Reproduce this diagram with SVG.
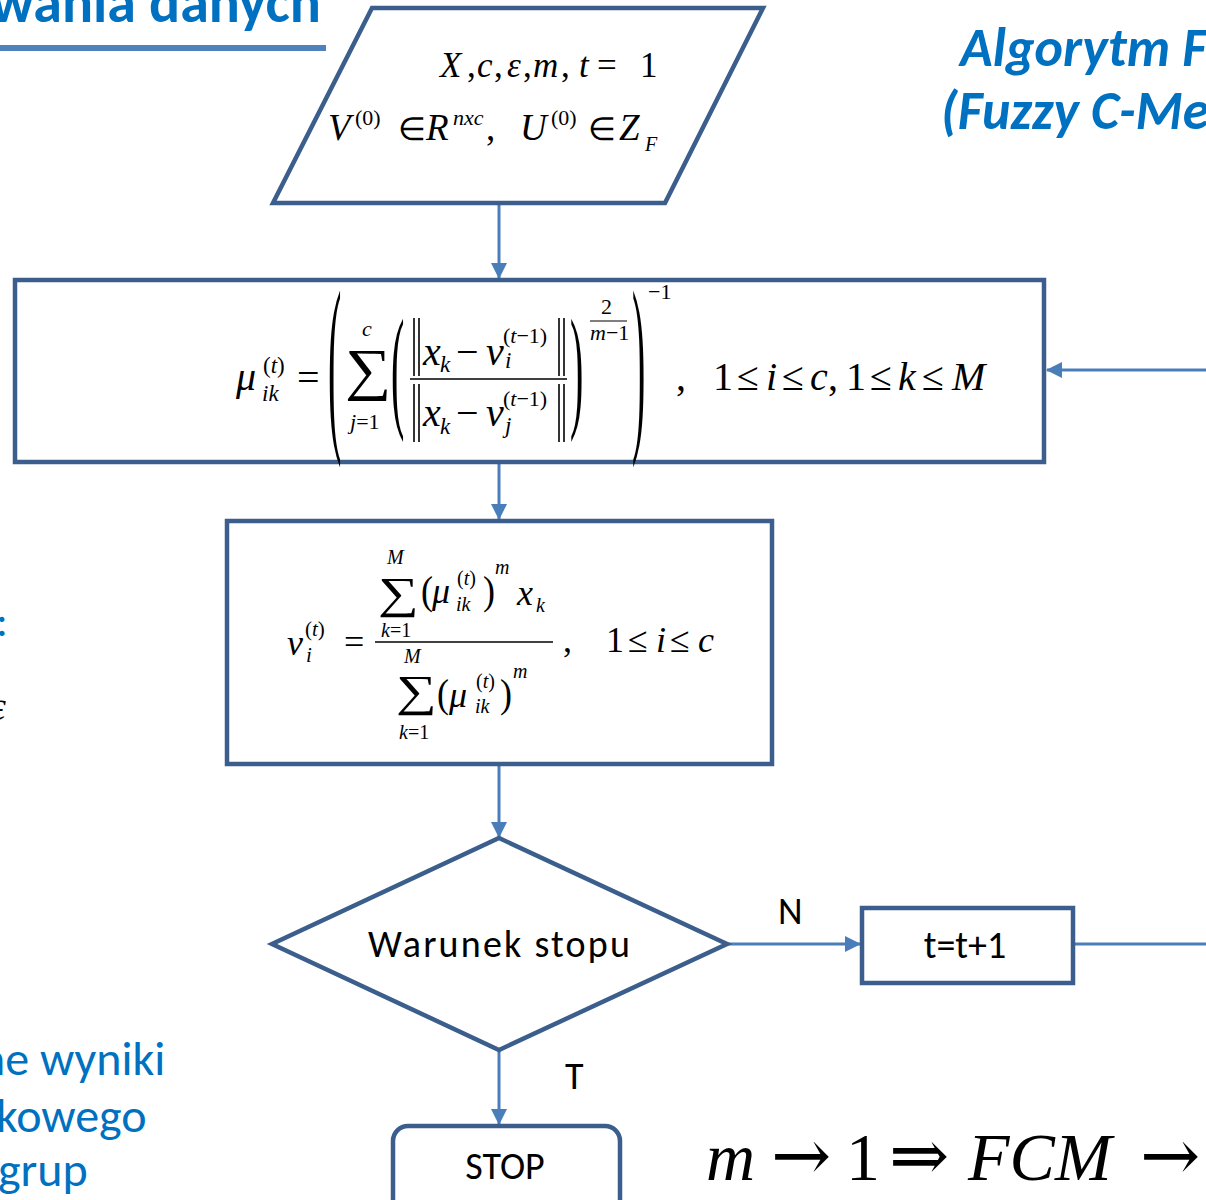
<svg xmlns="http://www.w3.org/2000/svg" width="1206" height="1200" viewBox="0 0 1206 1200">
<style>
.node{fill:#fff;stroke:#3B5E8C;stroke-width:4.5;stroke-linejoin:miter}
.conn{stroke:#4A7EBB;stroke-width:3;fill:none}
.m{font-family:"Liberation Serif","Times New Roman",serif;fill:#000}
.ar{font-family:"DejaVu Serif",serif;font-style:normal}
.i{font-style:italic}
.c{font-family:Carlito,Calibri,Lato,"Open Sans",sans-serif}
.blue{fill:#0070C0}
.bar{stroke:#000;stroke-width:1.6}
</style>
<defs>
<marker id="ah" markerWidth="16" markerHeight="16" refX="15" refY="8" orient="auto" markerUnits="userSpaceOnUse">
<path d="M0,0 L16,8 L0,16 Z" fill="#4A7EBB"/>
</marker>
</defs>

<!-- background slide fragments -->
<g id="slide-title">
<text class="c blue" font-size="58" font-weight="bold" x="321" y="22" text-anchor="end">grupowania danych</text>
<rect x="0" y="45" width="326" height="6" fill="#4F81BD"/>
</g>
<g id="slide-heading">
<text class="c blue" font-size="54" font-weight="bold" font-style="italic" x="960" y="66">Algorytm FCM</text>
<text class="c blue" font-size="54" font-weight="bold" font-style="italic" x="941" y="129">(Fuzzy C-Means)</text>
</g>
<g id="slide-left">
<text class="c blue" font-size="44" x="-4" y="636">:</text>
<text class="m i" font-size="40" x="-10" y="720">ε</text>
<text class="c blue" font-size="48" x="-20" y="1075">ne wyniki</text>
<text class="c blue" font-size="48" x="-4" y="1132">kowego</text>
<text class="c blue" font-size="48" x="-2" y="1186">grup</text>
</g>

<g id="connectors">
<line class="conn" x1="499" y1="205" x2="499" y2="278" marker-end="url(#ah)"/>
<line class="conn" x1="499" y1="463" x2="499" y2="519" marker-end="url(#ah)"/>
<line class="conn" x1="499" y1="766" x2="499" y2="837" marker-end="url(#ah)"/>
<line class="conn" x1="728" y1="944" x2="860" y2="944" marker-end="url(#ah)"/>
<line class="conn" x1="1075" y1="944" x2="1206" y2="944"/>
<line class="conn" x1="1206" y1="370" x2="1047" y2="370" marker-end="url(#ah)"/>
<line class="conn" x1="499" y1="1051" x2="499" y2="1124" marker-end="url(#ah)"/>
<text class="c" font-size="38" x="778" y="924">N</text>
<text class="c" font-size="38" x="565" y="1089">T</text>
</g>

<g id="input">
<polygon class="node" points="372,8 763,8 665,203 273,203"/>
<text class="m" font-size="35" y="77"><tspan x="440" class="i">X</tspan><tspan x="467">,</tspan><tspan x="477" class="i">c</tspan><tspan x="494">,</tspan><tspan x="507" class="i">ε</tspan><tspan x="523">,</tspan><tspan x="533" class="i">m</tspan><tspan x="561">,</tspan><tspan x="579" class="i">t</tspan><tspan x="597">=</tspan><tspan x="640">1</tspan></text>
<text class="m" font-size="37" y="140"><tspan x="328" class="i">V</tspan><tspan x="398" font-size="32">∈</tspan><tspan x="426" class="i">R</tspan><tspan x="486">,</tspan><tspan x="520" class="i">U</tspan><tspan x="588" font-size="32">∈</tspan><tspan x="619" class="i">Z</tspan></text>
<text class="m" font-size="22" y="125"><tspan x="355">(0)</tspan><tspan x="453" class="i">nxc</tspan><tspan x="551">(0)</tspan></text>
<text class="m i" font-size="20" x="645" y="151">F</text>
</g>

<g id="membership">
<rect class="node" x="15" y="280" width="1029" height="182"/>
<text class="m i" font-size="40" x="236" y="390">μ</text>
<text class="m" font-size="23" x="263" y="373">(<tspan class="i">t</tspan>)</text>
<text class="m i" font-size="23" x="262" y="401">ik</text>
<text class="m" font-size="40" x="297" y="391">=</text>
<text class="m" font-size="40" transform="translate(328,426) scale(1,4.9)">(</text>
<text class="m" font-size="40" transform="translate(632,426) scale(1,4.9)">)</text>
<text class="m" font-size="58" transform="translate(345,389) scale(1.12,1)">∑</text>
<text class="m i" font-size="22" x="362" y="336">c</text>
<text class="m" font-size="22" x="350" y="429"><tspan class="i">j</tspan>=1</text>
<text class="m" font-size="40" transform="translate(391,413) scale(1,3.4)">(</text>
<text class="m" font-size="40" transform="translate(570,413) scale(1,3.4)">)</text>
<line class="bar" x1="414" y1="318" x2="414" y2="376"/><line class="bar" x1="419" y1="318" x2="419" y2="376"/>
<line class="bar" x1="559" y1="318" x2="559" y2="376"/><line class="bar" x1="564" y1="318" x2="564" y2="376"/>
<line class="bar" x1="414" y1="384" x2="414" y2="442"/><line class="bar" x1="419" y1="384" x2="419" y2="442"/>
<line class="bar" x1="559" y1="384" x2="559" y2="442"/><line class="bar" x1="564" y1="384" x2="564" y2="442"/>
<text class="m" font-size="40" y="365"><tspan x="423" class="i">x</tspan><tspan x="456">−</tspan><tspan x="486" class="i">v</tspan></text>
<text class="m i" font-size="23" x="440" y="372">k</text>
<text class="m i" font-size="23" x="505" y="368">i</text>
<text class="m" font-size="22" x="503" y="343">(<tspan class="i">t</tspan>−1)</text>
<line x1="410" y1="379" x2="567" y2="379" stroke="#000" stroke-width="1.6"/>
<text class="m" font-size="40" y="426"><tspan x="423" class="i">x</tspan><tspan x="456">−</tspan><tspan x="486" class="i">v</tspan></text>
<text class="m i" font-size="23" x="440" y="434">k</text>
<text class="m i" font-size="23" x="505" y="433">j</text>
<text class="m" font-size="22" x="503" y="406">(<tspan class="i">t</tspan>−1)</text>
<text class="m" font-size="22" x="601" y="314">2</text>
<line x1="590" y1="321" x2="627" y2="321" stroke="#000" stroke-width="1.2"/>
<text class="m" font-size="22" x="590" y="340"><tspan class="i">m</tspan>−1</text>
<text class="m" font-size="22" x="648" y="299">−1</text>
<text class="m" font-size="40" x="676" y="390">,</text>
<text class="m" font-size="40" y="390"><tspan x="713">1</tspan><tspan x="737">≤</tspan><tspan x="766" class="i">i</tspan><tspan x="782">≤</tspan><tspan x="810" class="i">c</tspan><tspan x="828">,</tspan><tspan x="846">1</tspan><tspan x="870">≤</tspan><tspan x="898" class="i">k</tspan><tspan x="922">≤</tspan><tspan x="952" class="i">M</tspan></text>
</g>

<g id="centers">
<rect class="node" x="227" y="521" width="545" height="243"/>
<text class="m i" font-size="36" x="287" y="655">v</text>
<text class="m" font-size="21" x="305" y="636">(<tspan class="i">t</tspan>)</text>
<text class="m i" font-size="21" x="306" y="662">i</text>
<text class="m" font-size="36" x="344" y="654">=</text>
<line x1="375" y1="642" x2="553" y2="642" stroke="#000" stroke-width="1.5"/>
<text class="m" font-size="44" transform="translate(378,608) scale(1.3,1)">∑</text>
<text class="m i" font-size="20" x="387" y="564">M</text>
<text class="m" font-size="20" x="381" y="637"><tspan class="i">k</tspan>=1</text>
<text class="m" font-size="36" transform="translate(421,604) scale(1,1.1)">(</text>
<text class="m i" font-size="36" x="432" y="603">μ</text>
<text class="m" font-size="20" x="457" y="585">(<tspan class="i">t</tspan>)</text>
<text class="m i" font-size="20" x="456" y="611">ik</text>
<text class="m" font-size="36" transform="translate(483,604) scale(1,1.1)">)</text>
<text class="m i" font-size="20" x="495" y="574">m</text>
<text class="m i" font-size="36" x="517" y="605">x</text>
<text class="m i" font-size="20" x="536" y="612">k</text>
<text class="m" font-size="44" transform="translate(396,706) scale(1.3,1)">∑</text>
<text class="m i" font-size="20" x="404" y="663">M</text>
<text class="m" font-size="20" x="399" y="739"><tspan class="i">k</tspan>=1</text>
<text class="m" font-size="36" transform="translate(437,707) scale(1,1.1)">(</text>
<text class="m i" font-size="36" x="449" y="707">μ</text>
<text class="m" font-size="20" x="476" y="688">(<tspan class="i">t</tspan>)</text>
<text class="m i" font-size="20" x="475" y="713">ik</text>
<text class="m" font-size="36" transform="translate(500,707) scale(1,1.1)">)</text>
<text class="m i" font-size="20" x="513" y="678">m</text>
<text class="m" font-size="36" x="563" y="652">,</text>
<text class="m" font-size="36" y="652"><tspan x="606">1</tspan><tspan x="628">≤</tspan><tspan x="656" class="i">i</tspan><tspan x="670">≤</tspan><tspan x="698" class="i">c</tspan></text>
</g>

<g id="decision">
<polygon class="node" points="499,838 727,944 499,1050 272,944"/>
<text class="c" font-size="38" x="499" y="957" text-anchor="middle" textLength="262">Warunek stopu</text>
</g>

<g id="increment">
<rect class="node" x="862" y="908" width="211" height="75"/>
<text class="c" font-size="38" x="965" y="958" text-anchor="middle">t=t+1</text>
</g>

<g id="stop">
<rect class="node" x="393" y="1126" width="227" height="110" rx="15" ry="15"/>
<text class="c" font-size="38" x="505" y="1179" text-anchor="middle">STOP</text>
</g>

<g id="note">
<text class="m" font-size="68" y="1180"><tspan x="706" class="i">m</tspan><tspan x="771" class="ar" font-size="72">→</tspan><tspan x="846">1</tspan><tspan x="889" class="ar" font-size="72">⇒</tspan><tspan x="968" class="i">FCM</tspan><tspan x="1140" class="ar" font-size="72">→</tspan></text>
</g>
</svg>
